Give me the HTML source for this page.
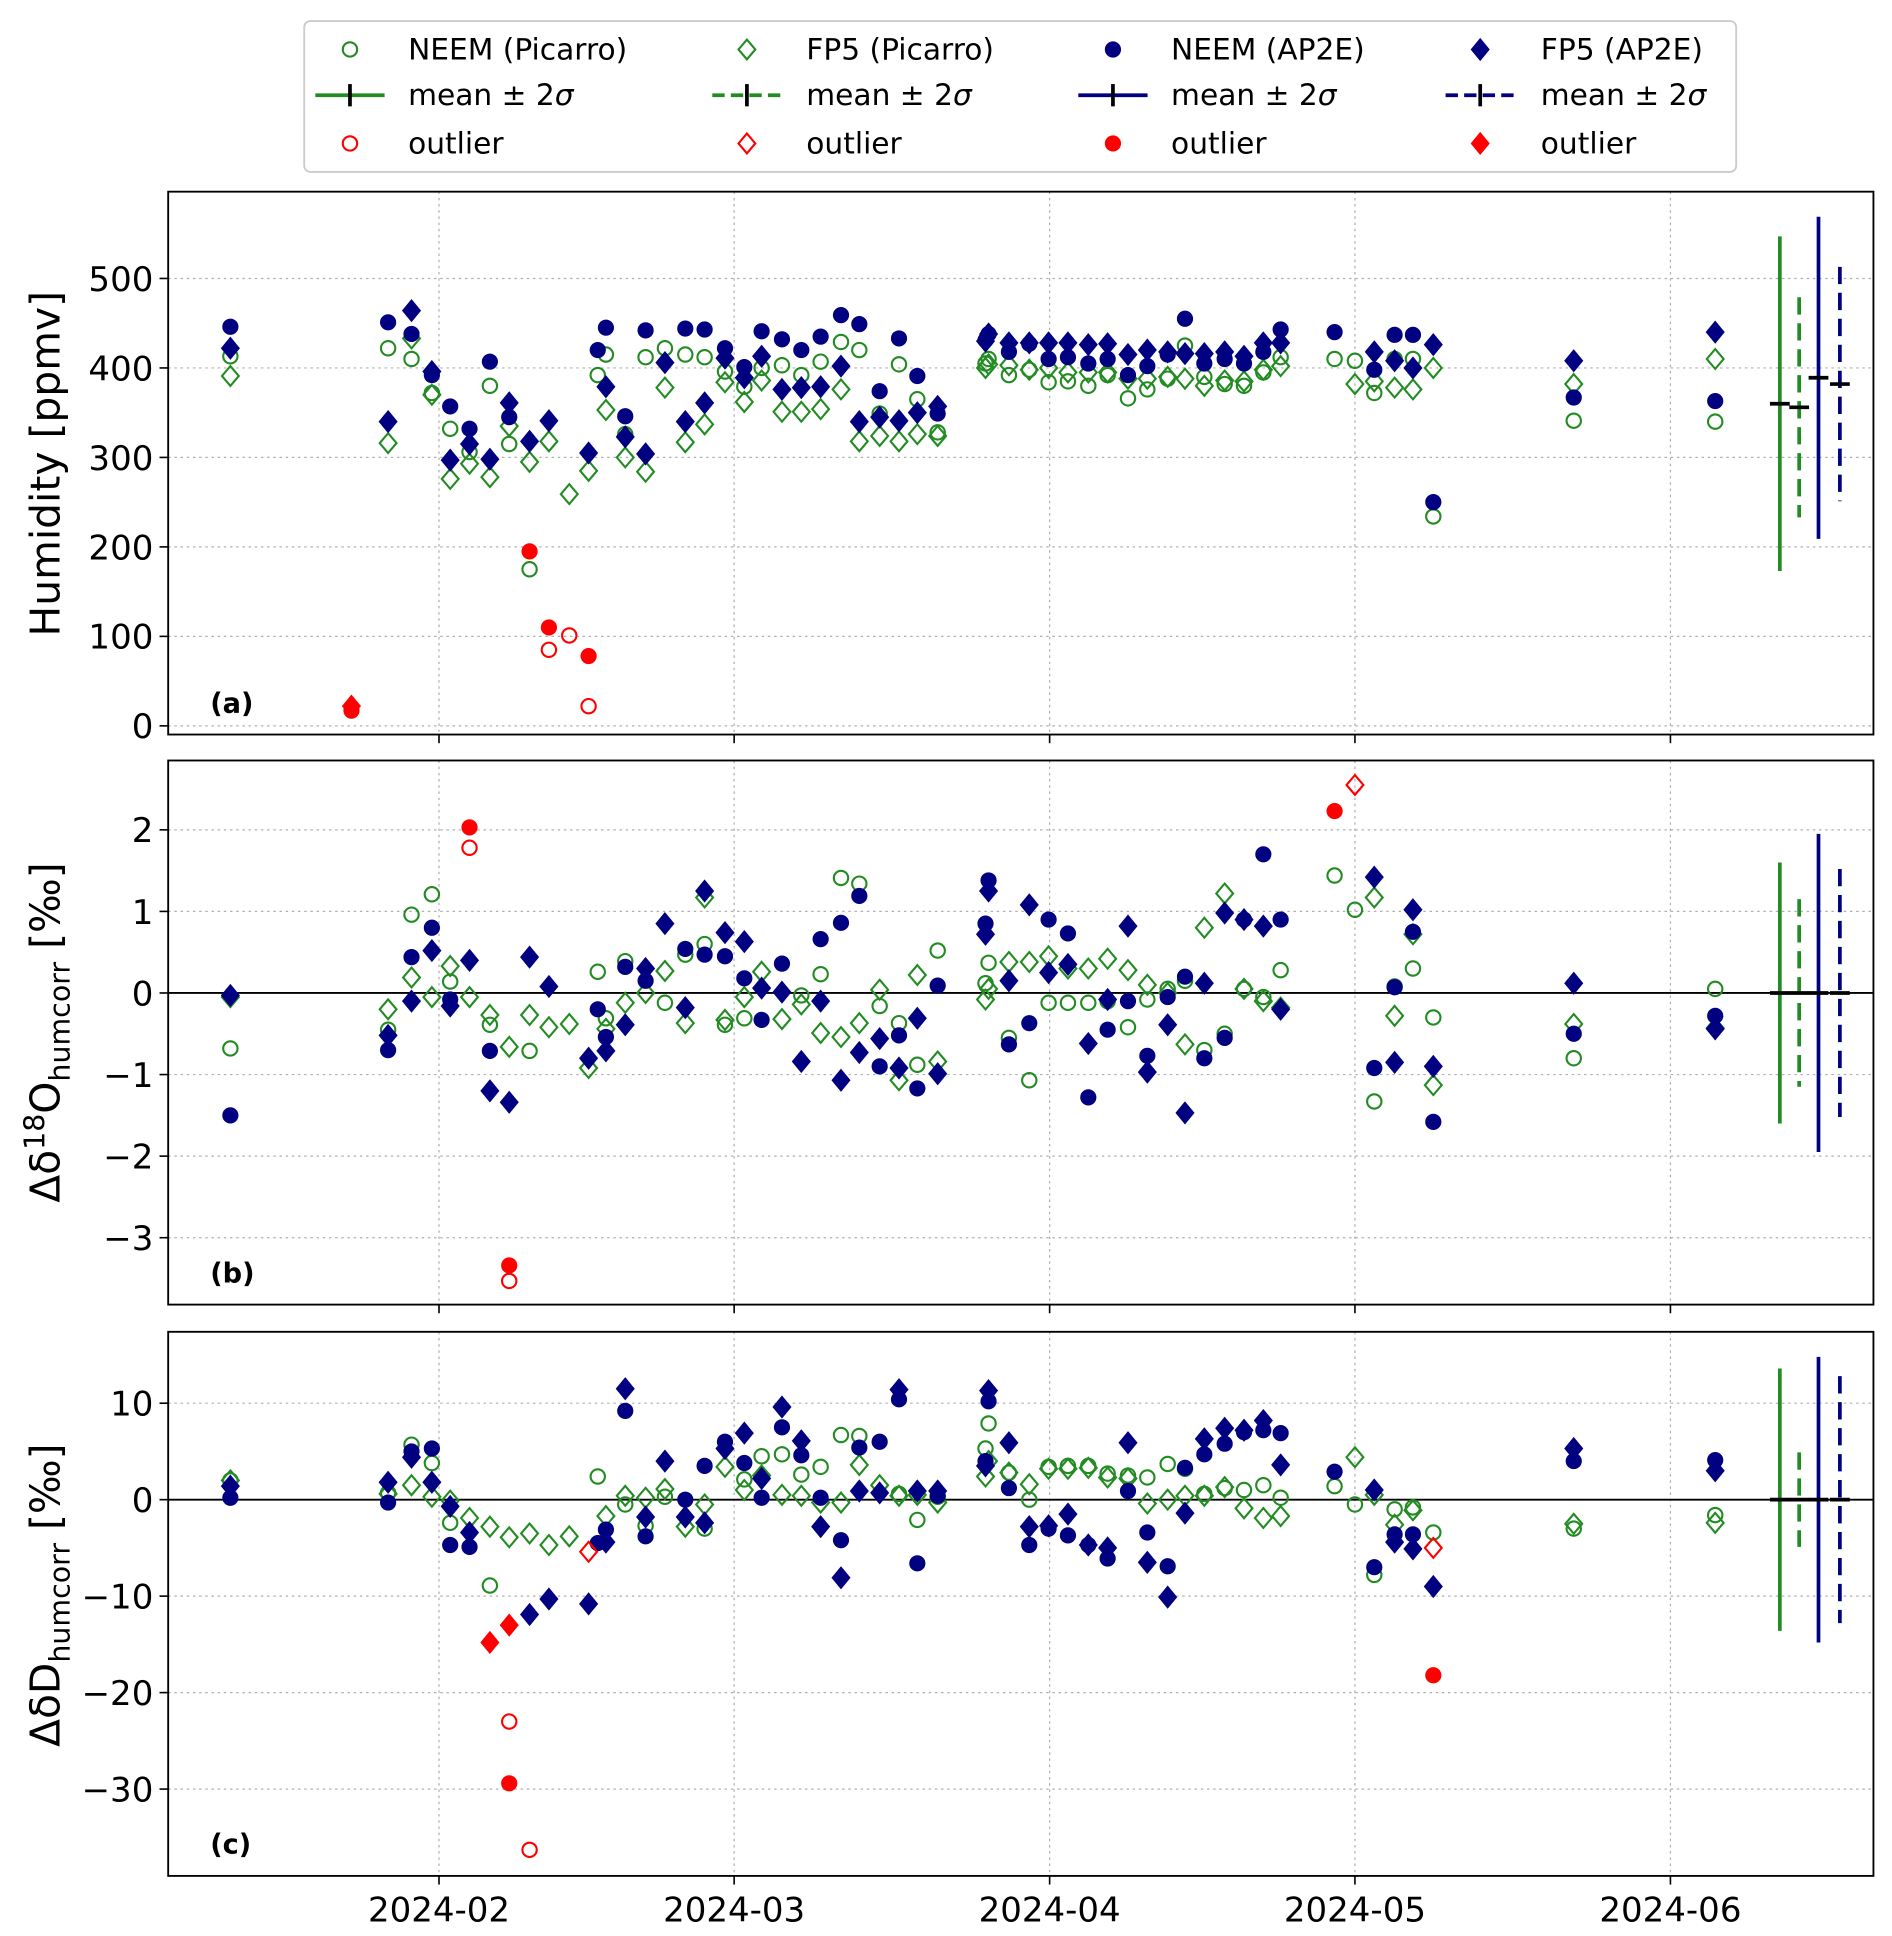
<!DOCTYPE html>
<html><head><meta charset="utf-8"><style>
html,body{margin:0;padding:0;background:#fff}
svg{display:block}
text{font-family:"DejaVu Sans","Liberation Sans",sans-serif}
</style></head><body>
<svg id="chart" width="1892" height="1936" viewBox="0 0 1530 1565.6" xmlns="http://www.w3.org/2000/svg"></svg>
<script>
// ---- data ----
const days = [10.5,26,28.3,30.3,32.1,34,36,37.9,39.9,41.8,43.8,45.7,46.6,47.4,49.3,51.3,53.2,55.2,57.1,59.1,61,62.7,64.7,66.6,68.5,70.5,72.3,74.3,76.2,78,80,84.7,85,87,89,90.9,92.8,94.8,96.7,98.7,100.6,102.6,104.3,106.2,108.2,110.1,112,113.7,119,121,122.9,124.9,126.7,128.7,142.5,156.4];
const seriesNames = ["NEEM (Picarro)","FP5 (Picarro)","NEEM (AP2E)","FP5 (AP2E)"];
const humNP = [413,422,410,372,332,306,380,315,175,null,null,null,392,415,326,412,422,415,412,396,379,400,403,392,407,429,420,349,404,365,328,405,410,392,398,384,385,380,392,366,376,388,425,390,382,380,395,412,410,408,372,410,410,234,341,340];
const humFP = [391,316,433,370,276,293,278,335,295,318,259,285,null,353,300,284,378,317,337,384,362,386,351,351,354,376,318,324,318,326,324,400,404,403,398,400,395,395,395,388,388,390,388,380,386,385,398,402,null,382,385,378,376,400,382,410];
const humNA = [446,451,438,392,357,332,407,345,null,null,null,null,420,445,346,442,null,444,443,422,401,441,432,420,435,459,449,374,433,391,349,431,438,418,427,410,412,405,410,392,402,415,455,405,410,405,418,443,440,null,398,437,437,250,367,363];
const humFA = [422,340,464,396,297,315,298,361,318,341,null,305,null,379,323,304,406,340,361,411,389,413,376,378,379,402,340,345,341,350,357,430,438,428,428,428,428,426,427,415,420,418,416,416,418,413,428,428,null,null,418,408,400,426,408,440];
const humOutSeries = [3,2,2,2,0,0,2,0];
const humOutDays = [22.4,22.4,39.9,41.8,41.8,43.8,45.7,45.7];
const humOutVals = [22,17,195,110,85,101,78,22];

const d18NP = [-0.68,-0.45,0.96,1.21,0.14,null,-0.39,null,-0.71,null,null,null,0.26,-0.31,0.39,null,-0.12,0.47,0.6,-0.39,-0.31,null,null,-0.03,0.23,1.41,1.34,-0.16,-0.37,-0.88,0.52,0.12,0.37,-0.55,-1.07,-0.12,-0.12,-0.12,-0.1,-0.42,-0.08,0.05,0.15,-0.7,-0.5,0.05,-0.05,0.28,1.44,1.02,-1.33,0.08,0.3,-0.3,-0.8,0.05];
const d18FP = [-0.05,-0.2,0.19,-0.05,0.33,-0.05,-0.27,-0.66,-0.27,-0.42,-0.38,-0.92,null,-0.44,-0.12,0.0,0.27,-0.37,1.17,-0.33,-0.05,0.26,-0.32,-0.14,-0.49,-0.54,-0.37,0.04,-1.07,0.22,-0.84,-0.08,0.05,0.38,0.38,0.45,0.3,0.3,0.42,0.28,0.1,0.0,-0.63,0.8,1.22,0.05,-0.1,-0.18,null,null,1.17,-0.28,0.72,-1.13,-0.38,-0.43];
const d18NA = [-1.5,-0.7,0.44,0.8,-0.08,null,-0.71,null,null,null,null,null,-0.2,-0.54,0.32,0.15,null,0.54,0.47,0.45,0.18,-0.33,0.36,null,0.66,0.86,1.19,-0.9,-0.52,-1.17,0.09,0.85,1.38,-0.63,-0.37,0.9,0.73,-1.28,-0.45,-0.1,-0.77,-0.05,0.2,-0.8,-0.55,0.9,1.7,0.9,null,null,-0.92,0.07,0.75,-1.58,-0.5,-0.28];
const d18FA = [-0.03,-0.52,-0.1,0.52,-0.16,0.4,-1.2,-1.34,0.44,0.08,null,-0.8,null,-0.71,-0.39,0.3,0.85,-0.18,1.25,0.74,0.63,0.06,0.01,-0.84,-0.1,-1.07,-0.73,-0.56,-0.92,-0.31,-0.99,0.72,1.25,0.15,1.08,0.25,0.35,-0.62,-0.08,0.82,-0.97,-0.39,-1.47,0.12,0.98,0.9,0.82,-0.2,null,null,1.42,-0.85,1.02,-0.9,0.12,-0.44];
const d18OutSeries = [2,0,2,0,2,1];
const d18OutDays = [34,34,37.9,37.9,119,121];
const d18OutVals = [2.03,1.78,-3.34,-3.53,2.23,2.55];

const dDNP = [2.0,0.7,5.7,3.8,-2.4,null,-8.9,null,null,null,null,null,2.4,null,-0.5,-2.7,0.3,null,-3.0,null,2.1,4.5,4.7,2.6,3.4,6.7,6.6,null,0.6,-2.1,0.3,5.3,7.9,2.8,0,3.4,3.5,3.5,2.7,2.5,2.3,3.7,3.2,0.6,1.2,1.0,1.5,0.2,1.4,-0.5,-7.8,-1.0,-0.8,-3.4,-3.0,-1.6];
const dDFP = [2.0,0.6,1.5,0.3,-0.1,-1.9,-2.8,-3.9,-3.5,-4.7,-3.8,null,null,-1.7,0.4,0.2,1.1,-2.8,-0.5,3.4,1.0,2.5,0.5,0.4,-0.3,-0.3,3.6,1.5,0.4,0.5,-0.3,2.4,4.0,2.8,1.6,3.2,3.2,3.3,2.3,2.2,-0.4,0.0,0.4,0.4,1.3,-0.9,-1.9,-1.7,null,4.4,0.5,-2.6,-1.1,null,-2.5,-2.4];
const dDNA = [0.2,-0.3,5.0,5.3,-4.7,-4.9,null,null,null,null,null,null,-4.5,-3.1,9.2,-3.8,null,0.0,3.5,6.0,3.8,0.2,7.5,4.6,0.2,-4.2,5.4,6.0,10.4,-6.6,0.4,4.0,10.2,1.2,-4.7,-3.0,-3.7,-4.7,-6.1,0.9,-3.4,-6.9,3.3,4.7,5.8,7.0,7.2,6.9,2.9,null,-7.0,-3.6,-3.6,null,4.0,4.1];
const dDFA = [1.4,1.8,4.4,1.8,-0.7,-3.4,null,null,-11.9,-10.3,null,-10.8,null,-4.4,11.5,-1.8,4.0,-1.8,-2.4,5.3,6.9,2.2,9.6,6.1,-2.8,-8.1,0.9,0.7,11.4,0.9,0.9,3.5,11.3,5.9,-2.8,-2.7,-1.5,-4.7,-5.0,5.9,-6.5,-10.1,-1.4,6.3,7.4,7.2,8.2,3.6,null,null,1.0,-4.4,-5.1,-9.0,5.3,3.0];
const dDOutSeries = [3,3,0,2,0,1,2,1];
const dDOutDays = [36,37.9,37.9,37.9,39.9,45.7,128.7,128.7];
const dDOutVals = [-14.8,-13,-23,-29.4,-36.3,-5.4,-18.2,-5.0];

// mean and 2 sigma per series (NEEM Pic, FP5 Pic, NEEM AP2E, FP5 AP2E)
const humMean = [360,356,389,382];
const hum2s = [187,123,180,131];
const d18Mean = [0,0,0,0];
const d182s = [1.6,1.15,1.95,1.52];
const dDMean = [0,0,0,0];
const dD2s = [13.6,4.9,14.8,12.8];
const statDays = [162.75,164.65,166.55,168.65];

const xTickDays = [31,60,91,121,152];
const xTickLabels = ["2024-02","2024-03","2024-04","2024-05","2024-06"];
const humTicks = [0,100,200,300,400,500];
const d18Ticks = [-3,-2,-1,0,1,2];
const dDTicks = [-30,-20,-10,0,10];

// ---- drawing ----
const NS="http://www.w3.org/2000/svg";
const svg=document.getElementById('chart');
function mk(tag,attrs,parent){const e=document.createElementNS(NS,tag);for(const k in attrs)e.setAttribute(k,attrs[k]);(parent||svg).appendChild(e);return e;}
const X0=136,X1=1515;
const xScale=d=>355+(d-31)*8.23;
const GREEN="#228b22",NAVY="#000080",RED="#ff0000";
const styles=[{shape:'circle',fill:'none',stroke:GREEN},{shape:'diamond',fill:'none',stroke:GREEN},{shape:'circle',fill:NAVY,stroke:NAVY},{shape:'diamond',fill:NAVY,stroke:NAVY}];
const outStyles=[{shape:'circle',fill:'none',stroke:RED},{shape:'diamond',fill:'none',stroke:RED},{shape:'circle',fill:RED,stroke:RED},{shape:'diamond',fill:RED,stroke:RED}];

function marker(g,x,y,st,name){
  let e;
  if(st.shape==='circle'){
    const r=st.fill==='none'?5.8:6.3;
    e=mk('circle',{cx:x,cy:y,r:r,fill:st.fill,stroke:st.stroke,'stroke-width':st.fill==='none'?1.7:0.5},g);
  }else{
    const h=st.fill==='none'?8:9,w=st.fill==='none'?6.8:7.4;
    e=mk('polygon',{points:`${x},${y-h} ${x+w},${y} ${x},${y+h} ${x-w},${y}`,fill:st.fill,stroke:st.stroke,'stroke-width':st.fill==='none'?1.7:0.5},g);
  }
  
  
  return e;
}

function panel(cfg){
  const g=mk('g',{});
  
  
  const ys=v=>cfg.top+(cfg.ymax-v)/(cfg.ymax-cfg.ymin)*(cfg.bottom-cfg.top);
  xTickDays.forEach(d=>{const x=xScale(d);mk('line',{x1:x,x2:x,y1:cfg.top,y2:cfg.bottom,stroke:'#b0b0b0','stroke-width':1,'stroke-dasharray':'2,3'},g);});
  cfg.ticks.forEach(t=>{const y=ys(t);mk('line',{x1:X0,x2:X1,y1:y,y2:y,stroke:'#b0b0b0','stroke-width':1,'stroke-dasharray':'2,3'},g);
    mk('line',{x1:X0-7,x2:X0,y1:y,y2:y,stroke:'#000','stroke-width':1.3},g);
    const t1=mk('text',{x:X0-12,y:y+10,'font-size':27.5,'text-anchor':'end'},g);t1.textContent=t<0?'\u2212'+Math.abs(t):String(t);
    });
  xTickDays.forEach(d=>{const x=xScale(d);mk('line',{x1:x,x2:x,y1:cfg.bottom,y2:cfg.bottom+7,stroke:'#000','stroke-width':1.3},g);});
  if(cfg.zero) mk('line',{x1:X0,x2:X1,y1:ys(0),y2:ys(0),stroke:'#000','stroke-width':1.5},g);
  const sers=cfg.series;
  sers.forEach((arr,si)=>{arr.forEach((v,i)=>{if(v===null)return;marker(g,xScale(days[i]),ys(v),styles[si],'point-'+['neem-picarro','fp5-picarro','neem-ap2e','fp5-ap2e'][si]);});});
  cfg.outS.forEach((s,i)=>marker(g,xScale(cfg.outD[i]),ys(cfg.outV[i]),outStyles[s],'outlier-point'));
  const cols=[GREEN,GREEN,NAVY,NAVY],dash=[null,'14,7',null,'14,7'];
  cfg.mean.forEach((m,i)=>{const x=xScale(statDays[i]);
    const l=mk('line',{x1:x,x2:x,y1:ys(m+cfg.s2[i]),y2:ys(m-cfg.s2[i]),stroke:cols[i],'stroke-width':3},g);
    if(dash[i])l.setAttribute('stroke-dasharray',dash[i]);
    
    mk('line',{x1:x-8,x2:x+8,y1:ys(m),y2:ys(m),stroke:'#000','stroke-width':3},g);});
  mk('rect',{x:X0,y:cfg.top,width:X1-X0,height:cfg.bottom-cfg.top,fill:'none',stroke:'#000','stroke-width':1.5},g);
  const pl=mk('text',{x:170,y:cfg.labelY,'font-size':22,'font-weight':'bold'},g);pl.textContent=cfg.label;
  
  return ys;
}

panel({name:'humidity-panel',top:155,bottom:594,ymin:-9.7,ymax:597,ticks:humTicks,series:[humNP,humFP,humNA,humFA],outS:humOutSeries,outD:humOutDays,outV:humOutVals,mean:humMean,s2:hum2s,label:'(a)',labelY:576});
panel({name:'d18o-panel',top:615,bottom:1055,ymin:-3.82,ymax:2.85,ticks:d18Ticks,zero:true,series:[d18NP,d18FP,d18NA,d18FA],outS:d18OutSeries,outD:d18OutDays,outV:d18OutVals,mean:d18Mean,s2:d182s,label:'(b)',labelY:1037});
panel({name:'dd-panel',top:1077,bottom:1517,ymin:-39.0,ymax:17.4,ticks:dDTicks,zero:true,series:[dDNP,dDFP,dDNA,dDFA],outS:dDOutSeries,outD:dDOutDays,outV:dDOutVals,mean:dDMean,s2:dD2s,label:'(c)',labelY:1499});

xTickDays.forEach((d,i)=>{const t=mk('text',{x:xScale(d),y:1554,'font-size':27.5,'text-anchor':'middle'});t.textContent=xTickLabels[i];
  });

function ytitle(cy,name,build){const t=mk('text',{transform:`translate(48,${cy}) rotate(-90)`,'font-size':33,'text-anchor':'middle'});build(t);
  }
ytitle(375,'y-axis-title-humidity',t=>{t.textContent='Humidity [ppmv]';});
ytitle(835,'y-axis-title-d18o',t=>{t.innerHTML='<tspan>Δδ</tspan><tspan font-size="23" dy="-12">18</tspan><tspan dy="12">O</tspan><tspan font-size="23" dy="8">humcorr</tspan><tspan dy="-8"> [‰]</tspan>';});
ytitle(1290,'y-axis-title-dd',t=>{t.innerHTML='<tspan>ΔδD</tspan><tspan font-size="23" dy="8">humcorr</tspan><tspan dy="-8"> [‰]</tspan>';});

const lg=mk('g',{});


mk('rect',{x:246,y:17,width:1158,height:122,rx:5,fill:'#fff',stroke:'#cccccc','stroke-width':1.5},lg);
const colM=[283,604,900,1197],colT=[330,652,947,1246],rowY=[40,77,116];
const lineCols=[GREEN,GREEN,NAVY,NAVY];
for(let c=0;c<4;c++){
  marker(lg,colM[c],rowY[0],styles[c],'legend-marker');
  const t1=mk('text',{x:colT[c],y:rowY[0]+8,'font-size':24},lg);t1.textContent=seriesNames[c];
  
  const l=mk('line',{x1:colM[c]-28,x2:colM[c]+28,y1:rowY[1],y2:rowY[1],stroke:lineCols[c],'stroke-width':3},lg);
  if(c%2===1)l.setAttribute('stroke-dasharray','10,5');
  mk('line',{x1:colM[c],x2:colM[c],y1:rowY[1]-9,y2:rowY[1]+9,stroke:'#000','stroke-width':3},lg);
  const t2=mk('text',{x:colT[c],y:rowY[1]+8,'font-size':24},lg);t2.innerHTML='mean ± 2<tspan font-style="italic">σ</tspan>';
  
  marker(lg,colM[c],rowY[2],outStyles[c],'legend-marker');
  const t3=mk('text',{x:colT[c],y:rowY[2]+8,'font-size':24},lg);t3.textContent='outlier';
  
}
</script>
</body></html>
